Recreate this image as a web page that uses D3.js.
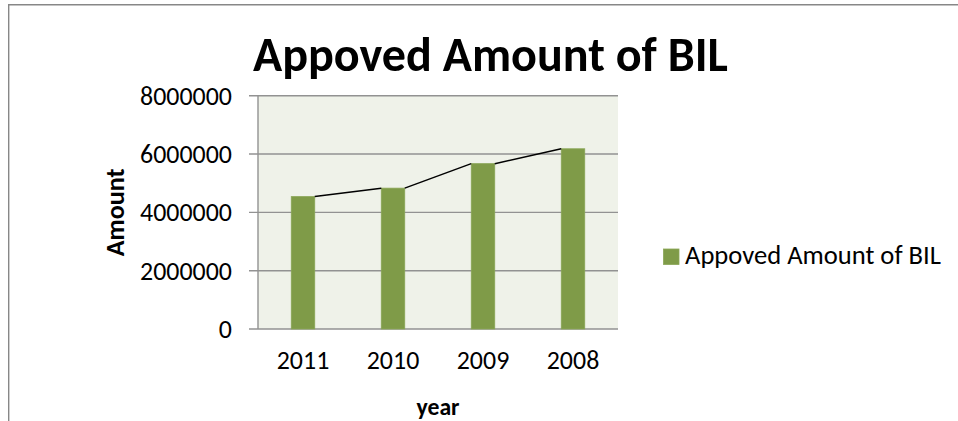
<!DOCTYPE html>
<html>
<head>
<meta charset="utf-8">
<script src="https://cdn.jsdelivr.net/npm/d3@7"></script>
<style>
  html, body { margin: 0; padding: 0; background: #fff; }
  svg { display: block; }
  text { font-family: Carlito, Lato, "Open Sans", sans-serif; fill: #000; }
</style>
</head>
<body>
<svg id="chart" width="958" height="421"></svg>
<script>
const categories = ["2011", "2010", "2009", "2008"];
const values = [4540000, 4830000, 5670000, 6180000];
const yTicks = [0, 2000000, 4000000, 6000000, 8000000];
const titleText = "Appoved Amount of BIL";
const seriesName = "Appoved Amount of BIL";
const xTitle = "year";
const yTitle = "Amount";

const svg = d3.select("#chart");
const W = 958, H = 421;
const plot = { left: 258, right: 618, top: 95.7, bottom: 329 };

// Outer frame (top and left edges visible)
svg.append("path")
  .attr("d", `M8.7,${H} V4.7 H${W}`)
  .attr("fill", "none").attr("stroke", "#878787").attr("stroke-width", 1.4);

const x = d3.scaleBand().domain(categories)
  .range([plot.left, plot.right]).paddingInner(0.739).paddingOuter(0.3695);
const y = d3.scaleLinear().domain([0, 8000000]).range([plot.bottom, plot.top]);

// plot background
svg.append("rect")
  .attr("x", plot.left).attr("y", plot.top)
  .attr("width", plot.right - plot.left).attr("height", plot.bottom - plot.top)
  .attr("fill", "#EFF2E9");

// helper: fit font size so text has target width
function fit(sel, target) {
  const n = sel.node();
  const fs = parseFloat(sel.attr("font-size"));
  const w = n.getComputedTextLength();
  sel.attr("font-size", fs * target / w);
  return fs * target / w;
}

// gridlines
svg.append("g").selectAll("line").data(yTicks).join("line")
  .attr("x1", plot.left - 9).attr("x2", plot.right)
  .attr("y1", d => y(d)).attr("y2", d => y(d))
  .attr("stroke", "#929292").attr("stroke-width", 1.4);

// y axis line
svg.append("line")
  .attr("x1", plot.left).attr("x2", plot.left)
  .attr("y1", plot.top).attr("y2", plot.bottom)
  .attr("stroke", "#929292").attr("stroke-width", 1.4);

// tick label font size measured from widest label
const probe = svg.append("text").attr("font-size", 24).text(d3.format("d")(8000000));
const tickFs = fit(probe, 92);
probe.remove();

svg.append("g").selectAll("text").data(yTicks).join("text")
  .attr("x", 232).attr("y", d => y(d))
  .attr("text-anchor", "end").attr("dominant-baseline", "central")
  .attr("font-size", tickFs)
  .text(d => d3.format("d")(d));

// x labels
svg.append("g").selectAll("text").data(categories).join("text")
  .attr("x", d => x(d) + x.bandwidth() / 2).attr("y", 369.3)
  .attr("text-anchor", "middle")
  .attr("font-size", tickFs)
  .text(d => d);

// bars
svg.append("g").selectAll("rect").data(values).join("rect")
  .attr("x", (d, i) => x(categories[i]))
  .attr("y", d => y(d))
  .attr("width", x.bandwidth())
  .attr("height", d => y(0) - y(d))
  .attr("fill", "#7F9B48")
  .attr("stroke", "#8AA656").attr("stroke-width", 0.8);

// series lines: right-top corner to next bar's left-top corner
const segs = d3.pairs(values.map((v, i) => ({ c: categories[i], v })));
svg.append("g").selectAll("line").data(segs).join("line")
  .attr("x1", d => x(d[0].c) + x.bandwidth()).attr("y1", d => y(d[0].v))
  .attr("x2", d => x(d[1].c)).attr("y2", d => y(d[1].v))
  .attr("stroke", "#000").attr("stroke-width", 1.5);

// title
const t = svg.append("text")
  .attr("x", 253).attr("y", 70.7)
  .attr("font-size", 44).attr("font-weight", "bold")
  .text(titleText);
fit(t, 475);

// axis titles
const yt = svg.append("text")
  .attr("transform", `translate(124,${(plot.top + plot.bottom) / 2}) rotate(-90)`)
  .attr("text-anchor", "middle")
  .attr("font-size", 24).attr("font-weight", "bold")
  .text(yTitle);
fit(yt, 88);

const xt = svg.append("text")
  .attr("x", (plot.left + plot.right) / 2).attr("y", 415)
  .attr("text-anchor", "middle")
  .attr("font-size", 24).attr("font-weight", "bold")
  .text(xTitle);
fit(xt, 43);

// legend
const lg = svg.append("g");
lg.append("rect")
  .attr("x", 663.5).attr("y", 249).attr("width", 15.5).attr("height", 15.5)
  .attr("fill", "#7F9B48").attr("stroke", "#8AA656").attr("stroke-width", 0.8);
const lt = lg.append("text")
  .attr("x", 685).attr("y", 264)
  .attr("font-size", 24)
  .text(seriesName);
fit(lt, 256);
</script>
</body>
</html>
